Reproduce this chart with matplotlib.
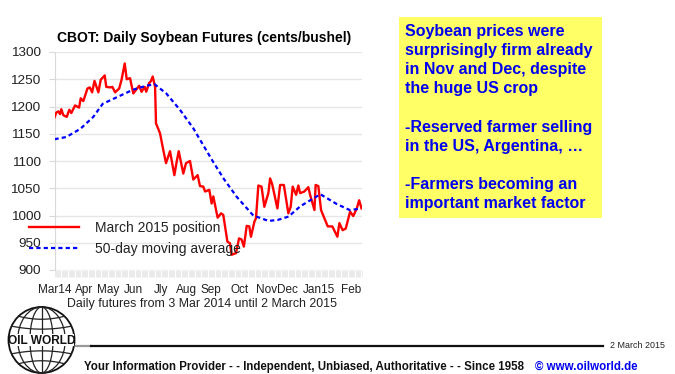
import numpy as np
import matplotlib
matplotlib.use('Agg')
import matplotlib.pyplot as plt
from matplotlib.patches import Ellipse, Rectangle

plt.rcParams['font.family'] = ['Liberation Sans', 'DejaVu Sans']

# March 2015 position (trading day, cents/bushel)
red_days = [0, 1.6, 3.3, 4.7, 5.8, 7.5, 10.4, 12.6, 14.3, 17.5, 20.9, 22.3, 24.5, 28, 30, 32, 34, 37.3, 39.3,
            42.7, 44, 47.8, 49.2, 51.5, 55, 57, 59.7, 61.4, 64.2, 67, 72, 74, 76.7, 78, 80.4, 81.8, 83.5, 85.5,
            86.3, 89.7, 92.5, 94.8, 98.2, 101.9, 103.9, 105.6, 109.5, 111.8, 115.2, 118, 121.7, 123.7, 126.5,
            128, 131.6, 133.6, 135, 138.7, 141.6, 143.5, 147, 149.2, 150.6, 154.3, 156.9, 159, 161, 163.4,
            165.6, 167, 170, 171.3, 173.3, 176, 178.4, 181.8, 183.3, 185, 189.5, 191.8, 195, 198.8, 200.8,
            202.5, 205.4, 207.3, 208.8, 212.4, 215.8, 217.3, 221, 222, 224.3, 226.6, 230, 232.3, 236.2, 240.5,
            242.2, 245, 247.6, 251.3, 254, 257, 259, 261]
red_values = [1180, 1189, 1191, 1186, 1195, 1184, 1181, 1194, 1188, 1202, 1198, 1215, 1210, 1233, 1235, 1226,
              1247, 1226, 1249, 1257, 1236, 1235, 1236, 1226, 1233, 1249, 1279, 1250, 1252, 1224, 1238, 1227,
              1236, 1227, 1243, 1246, 1255, 1236, 1169, 1151, 1120, 1096, 1118, 1074, 1099, 1118, 1077, 1096,
              1100, 1066, 1074, 1054, 1053, 1044, 1047, 1022, 1035, 996, 1004, 1001, 952, 949, 928, 931, 958,
              956, 943, 981, 980, 961, 989, 995, 1055, 1053, 1016, 1041, 1068, 1058, 1013, 1056, 1056, 1004,
              1016, 1053, 1038, 1055, 1041, 1044, 1052, 1038, 1010, 1056, 1054, 1010, 992, 980, 980, 961, 986,
              973, 976, 1007, 999, 1013, 1028, 1013]

# 50-day moving average
blue_days = [0, 10, 22, 33, 41, 53, 67, 78, 85, 95, 107, 118, 124, 135, 144, 155, 169, 182, 190, 199, 209,
             226, 240, 251, 258]
blue_values = [1140, 1144, 1159, 1181, 1205, 1217, 1231, 1238, 1241, 1224, 1193, 1160, 1138, 1098, 1067, 1034,
               1000, 990, 992, 998, 1017, 1039, 1021, 1010, 1012]

month_labels = ['Mar14', 'Apr', 'May', 'Jun', 'Jly', 'Aug', 'Sep', 'Oct', 'Nov', 'Dec', 'Jan15', 'Feb']
month_days = [0, 25, 46, 67, 91, 112, 133, 157, 180, 198, 225, 252]
y_ticks = [900, 950, 1000, 1050, 1100, 1150, 1200, 1250, 1300]

text_lines = ['Soybean prices were', 'surprisingly firm already', 'in Nov and Dec, despite', 'the huge US crop', '',
              '-Reserved farmer selling', 'in the US, Argentina, …', '', '-Farmers becoming an',
              'important market factor']

W, H = 675, 374
fig = plt.figure(figsize=(W / 100, H / 100), dpi=100)
ax = fig.add_axes([54.5 / W, 1 - 270 / H, 307 / W, 218 / H])

ax.plot(red_days, red_values, color='#ff0000', lw=1.7, label='March 2015 position', zorder=3)
ax.plot(blue_days, blue_values, color='#0000ff', lw=1.6, ls=(0, (1.9, 1.4)), label='50-day moving average', zorder=3)

ax.set_xlim(0, 261)
ax.set_ylim(900, 1300)
ax.set_yticks(y_ticks)
ax.tick_params(axis='y', labelsize=9.7, length=4, color='#d9d9d9', pad=6, labelcolor='#222222')
ax.grid(axis='y', color='#e6e6e6', lw=1)
ax.set_axisbelow(True)

# dense daily ticks form the grey band, month names sit on minor ticks
ax.xaxis.remove_overlapping_locs = False
ax.set_xticks(np.arange(0, 262))
ax.set_xticklabels([])
ax.tick_params(axis='x', which='major', length=5, width=0.5, color='#e2e2e2')
ax.set_xticks(month_days, minor=True)
ax.set_xticklabels(month_labels, minor=True, fontsize=8.5)
ax.tick_params(axis='x', which='minor', length=0, pad=10, labelcolor='#222222')
ax.set_xlabel('Daily futures from 3 Mar 2014 until 2 March 2015', fontsize=8.9, color='#222222')
ax.xaxis.set_label_coords(0.479, -0.13)

for s in ['top', 'right', 'bottom']:
    ax.spines[s].set_visible(False)
ax.spines['left'].set_color('#d9d9d9')

ax.set_title('CBOT: Daily Soybean Futures (cents/bushel)', fontsize=10, fontweight='bold', pad=7, x=0.487)

leg = ax.legend(loc='upper left', bbox_to_anchor=(29 / W, 1 - 221 / H), bbox_transform=fig.transFigure, frameon=False,
                fontsize=10, handlelength=3.6, handletextpad=1.15, labelspacing=0.5, borderpad=0, borderaxespad=0)
for t in leg.get_texts():
    t.set_color('#222222')
leg.set_zorder(5)

# overlay in pixel coordinates for the slide furniture
over = fig.add_axes([0, 0, 1, 1], facecolor='none')
over.set_xlim(0, W)
over.set_ylim(H, 0)
over.axis('off')

over.add_patch(Rectangle((399, 17), 203, 201, facecolor='#ffff66', edgecolor='none'))
y = 31
for line in text_lines:
    over.text(405, y, line, color='#0000ee', fontsize=11.5, fontweight='bold', va='center', ha='left')
    y += 19.2

# globe logo
cx, cy, r = 41.5, 340, 33
over.add_patch(Ellipse((cx, cy), 2 * r, 2 * r, facecolor='white', edgecolor='#111111', lw=1.3))
for w in [0.35, 0.72]:
    over.add_patch(Ellipse((cx, cy), 2 * r * w, 2 * r, facecolor='none', edgecolor='#222222', lw=0.9))
over.plot([cx, cx], [cy - r, cy + r], color='#222222', lw=0.9)
for lat in [-0.72, -0.42, -0.14, 0.14, 0.42, 0.72]:
    half = r * np.sqrt(1 - lat ** 2)
    xs = np.linspace(cx - half, cx + half, 40)
    ys = cy + lat * r - np.sign(lat) * 3 * (1 - ((xs - cx) / half) ** 2)
    over.plot(xs, ys, color='#222222', lw=0.9)
over.add_patch(Rectangle((cx - r + 1, cy - 6), 2 * r - 2, 12, facecolor='white', edgecolor='none', zorder=4))
over.text(cx, cy + 0.5, 'OIL WORLD', fontsize=8.6, fontweight='bold', ha='center', va='center', zorder=5, color='#111111')

over.plot([76, 91], [346, 346], color='#999999', lw=1.6)
over.plot([91, 603], [346, 346], color='#111111', lw=1.6)
over.text(610, 346, '2 March 2015', fontsize=6.4, ha='left', va='center', color='#222222')
over.text(84, 367, 'Your Information Provider - - Independent, Unbiased, Authoritative - - Since 1958', fontsize=8.3,
          fontweight='bold', ha='left', va='center', color='#111111')
over.text(535, 367, '© www.oilworld.de', fontsize=8.3, fontweight='bold', ha='left', va='center', color='#0000ee')

fig.savefig('out.png', dpi=100)
